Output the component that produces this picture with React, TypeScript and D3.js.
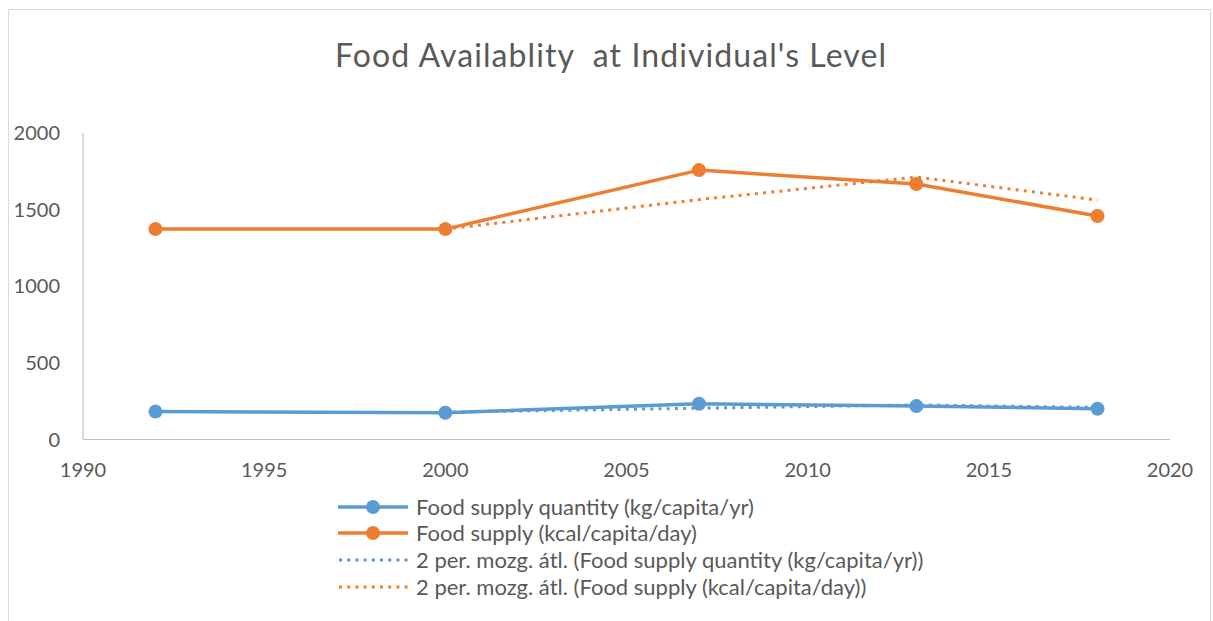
import React from "react";
import * as d3 from "d3";

const years = [1992, 2000, 2007, 2013, 2018];
const quantityKg = [182, 175, 233, 218, 201];
const kcal = [1373, 1373, 1758, 1667, 1458];
const xTicks = [1990, 1995, 2000, 2005, 2010, 2015, 2020];
const yTicks = [0, 500, 1000, 1500, 2000];
const legendLabels = [
  "Food supply quantity (kg/capita/yr)",
  "Food supply (kcal/capita/day)",
  "2 per. mozg. átl. (Food supply quantity (kg/capita/yr))",
  "2 per. mozg. átl. (Food supply (kcal/capita/day))",
];
const title = "Food Availablity  at Individual's Level";

const BLUE = "#5B9BD5";
const ORANGE = "#ED7D31";
const TEXT = "#595959";
const FONT = "Lato, 'Open Sans', sans-serif";

function movingAvg(vals: number[]) {
  const out: { i: number; v: number }[] = [];
  for (let i = 1; i < vals.length; i++) out.push({ i, v: (vals[i - 1] + vals[i]) / 2 });
  return out;
}

export default function App() {
  const W = 1213, H = 621;
  const x = d3.scaleLinear().domain([1990, 2020]).range([83, 1170]);
  const y = d3.scaleLinear().domain([0, 2000]).range([439.5, 133]);
  const line = d3.line<[number, number]>().x((d) => x(d[0])).y((d) => y(d[1]));

  const series = [
    { vals: quantityKg, color: BLUE },
    { vals: kcal, color: ORANGE },
  ];

  const legendY = [507, 533, 560, 587];

  return (
    <svg width={W} height={H} style={{ position: "absolute", left: 0, top: 0, background: "#fff" }} fontFamily={FONT}>
      <rect x={8.5} y={9.5} width={1202} height={640} fill="#fff" stroke="#D9D9D9" strokeWidth={1} />
      <text x={335} y={67} fontSize={32} fill={TEXT} textLength={551} lengthAdjust="spacing" style={{ whiteSpace: "pre" }}>
        {title}
      </text>
      {/* axes */}
      <line x1={x(1990)} x2={x(1990)} y1={y(2000)} y2={y(0)} stroke="#BFBFBF" strokeWidth={1.2} />
      <line x1={x(1990)} x2={x(2020)} y1={y(0)} y2={y(0)} stroke="#BFBFBF" strokeWidth={1.2} />
      {yTicks.map((t) => (
        <text key={t} x={60} y={y(t) + 7} textAnchor="end" fontSize={20} fill={TEXT}>
          {t}
        </text>
      ))}
      {xTicks.map((t) => (
        <text key={t} x={x(t)} y={477} textAnchor="middle" fontSize={20} fill={TEXT}>
          {t}
        </text>
      ))}
      {/* moving averages */}
      {series.map((s, k) => {
        const ma = movingAvg(s.vals).map((d) => [years[d.i], d.v] as [number, number]);
        return (
          <path key={"ma" + k} d={line(ma) || ""} fill="none" stroke={s.color} strokeWidth={3} strokeDasharray="3 5.2" />
        );
      })}
      {/* series */}
      {series.map((s, k) => {
        const pts = years.map((yr, i) => [yr, s.vals[i]] as [number, number]);
        return (
          <g key={"s" + k}>
            <path d={line(pts) || ""} fill="none" stroke={s.color} strokeWidth={3.5} strokeLinejoin="round" />
            {pts.map((p, i) => (
              <circle key={i} cx={x(p[0])} cy={y(p[1])} r={7} fill={s.color} />
            ))}
          </g>
        );
      })}
      {/* legend */}
      {legendLabels.map((lab, i) => {
        const color = i % 2 === 0 ? BLUE : ORANGE;
        const ly = legendY[i];
        return (
          <g key={lab}>
            {i < 2 ? (
              <>
                <line x1={338} x2={408} y1={ly} y2={ly} stroke={color} strokeWidth={3.5} />
                <circle cx={373} cy={ly} r={7} fill={color} />
              </>
            ) : (
              <line x1={339} x2={409} y1={ly} y2={ly} stroke={color} strokeWidth={3} strokeDasharray="3 5.2" />
            )}
            <text x={416} y={ly + 8} fontSize={22} fill={TEXT}>
              {lab}
            </text>
          </g>
        );
      })}
    </svg>
  );
}
